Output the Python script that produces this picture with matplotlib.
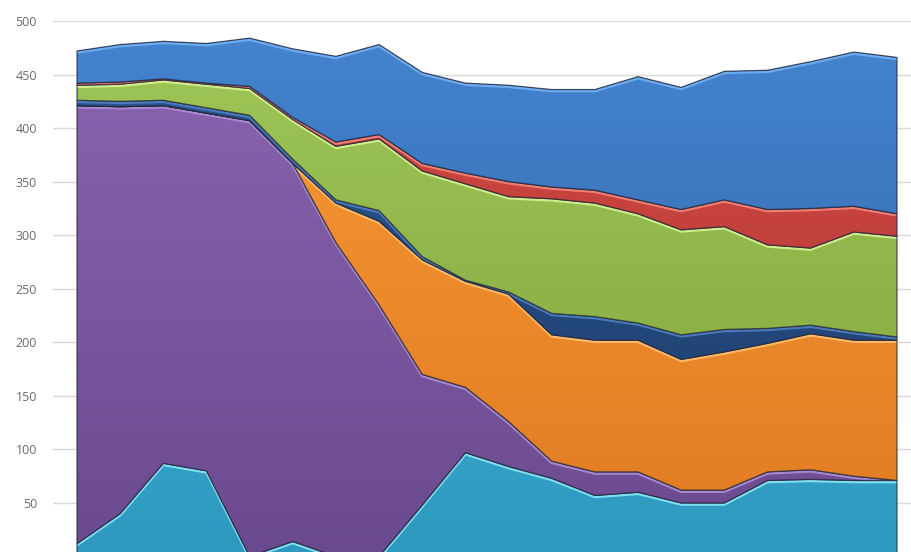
import numpy as np
import matplotlib
matplotlib.use("Agg")
import matplotlib.pyplot as plt
from matplotlib.colors import to_rgb
from matplotlib.patches import Polygon
from matplotlib import transforms

# Twenty periods, stacked from the bottom layer upwards
periods = np.arange(20)

aqua = [12, 40, 87, 80, 0, 14, 0, 0, 48, 97, 84, 73, 57, 60, 50, 50, 71, 72, 71, 71]
violet = [409, 380, 334, 334, 407, 353, 293, 235, 122, 61, 42, 16, 22, 19, 12, 12, 8, 9, 4, 0]
amber = [0, 0, 0, 0, 0, 0, 37, 78, 107, 99, 119, 118, 123, 123, 122, 129, 120, 127, 127, 131]
navy = [5, 5, 5, 5, 5, 4, 3, 10, 3, 1, 2, 20, 22, 16, 23, 21, 14, 8, 8, 3]
lime = [14, 16, 19, 22, 25, 37, 50, 67, 80, 90, 89, 107, 106, 102, 98, 96, 78, 72, 93, 94]
crimson = [2, 2, 1, 1, 2, 2, 4, 4, 7, 10, 14, 11, 12, 13, 19, 25, 33, 37, 24, 21]
azure = [30, 35, 35, 37, 45, 64, 80, 84, 85, 84, 90, 91, 94, 115, 114, 120, 130, 137, 144, 146]

y_ticks = [50, 100, 150, 200, 250, 300, 350, 400, 450, 500]

layers = [aqua, violet, amber, navy, lime, crimson, azure]
# (colour at the top of the axis, colour at the bottom, highlight along the upper edge)
palette = [
    ("#4cc2e2", "#2e98be", "#8ae6f8"),
    ("#8c65b2", "#6a4a8e", "#ad8ed6"),
    ("#f89a36", "#e07a22", "#ffc070"),
    ("#2c5894", "#1c3a66", "#4f7fc0"),
    ("#a0c858", "#7ea23c", "#d8f294"),
    ("#d44a44", "#aa3431", "#f4847a"),
    ("#4584d0", "#2f62a2", "#72b0f2"),
]

fig = plt.figure(figsize=(9.12, 5.52), dpi=100)
ax = fig.add_axes([53 / 912, -4.5 / 552, 868 / 912, 535.5 / 552])
ax.set_xlim(-0.556, 19.556)
ax.set_ylim(0, 500)
ax.set_yticks(y_ticks)
ax.set_xticks([])
for s in ax.spines.values():
    s.set_visible(False)
ax.grid(axis="y", color="#d9d9d9", linewidth=1.0)
ax.set_axisbelow(True)
ax.tick_params(axis="y", length=0, pad=11.5, labelsize=9, labelcolor="#6a6a6a")
for lbl in ax.get_yticklabels():
    lbl.set_fontfamily("Open Sans")

x = periods.astype(float)
lower = np.zeros(len(x))
hl_trans = transforms.offset_copy(ax.transData, fig=fig, x=0, y=-1.6, units="dots")

for k, (vals, (ctop, cbot, chl)) in enumerate(zip(layers, palette)):
    upper = lower + np.asarray(vals, dtype=float)
    verts = np.vstack([np.column_stack([x, upper]),
                       np.column_stack([x[::-1], lower[::-1]])])
    z = 2 + k * 0.1
    poly = Polygon(verts, closed=True, facecolor=cbot, edgecolor="none",
                   transform=ax.transData, zorder=z)
    ax.add_patch(poly)

    # vertical shading of the layer fill
    t = np.linspace(0, 1, 256)[:, None]
    c1 = np.array(to_rgb(ctop))
    c2 = np.array(to_rgb(cbot))
    grad = (c1[None, None, :] * (1 - t[:, :, None]) + c2[None, None, :] * t[:, :, None])
    im = ax.imshow(grad, extent=[x[0], x[-1], 0, 500], aspect="auto",
                   origin="upper", zorder=z + 0.01, interpolation="bilinear")
    im.set_clip_path(poly)

    # light bevel just inside the upper edge
    hl, = ax.plot(x, upper, color=chl, linewidth=1.8, alpha=0.9,
                  transform=hl_trans, zorder=z + 0.02, solid_joinstyle="round")
    hl.set_clip_path(poly)

    # dark outline of the layer
    edge = Polygon(verts, closed=True, facecolor="none", edgecolor="#22263a",
                   linewidth=0.9, alpha=0.75, transform=ax.transData, zorder=z + 0.03)
    ax.add_patch(edge)
    lower = upper

fig.savefig("out.png", dpi=100)
